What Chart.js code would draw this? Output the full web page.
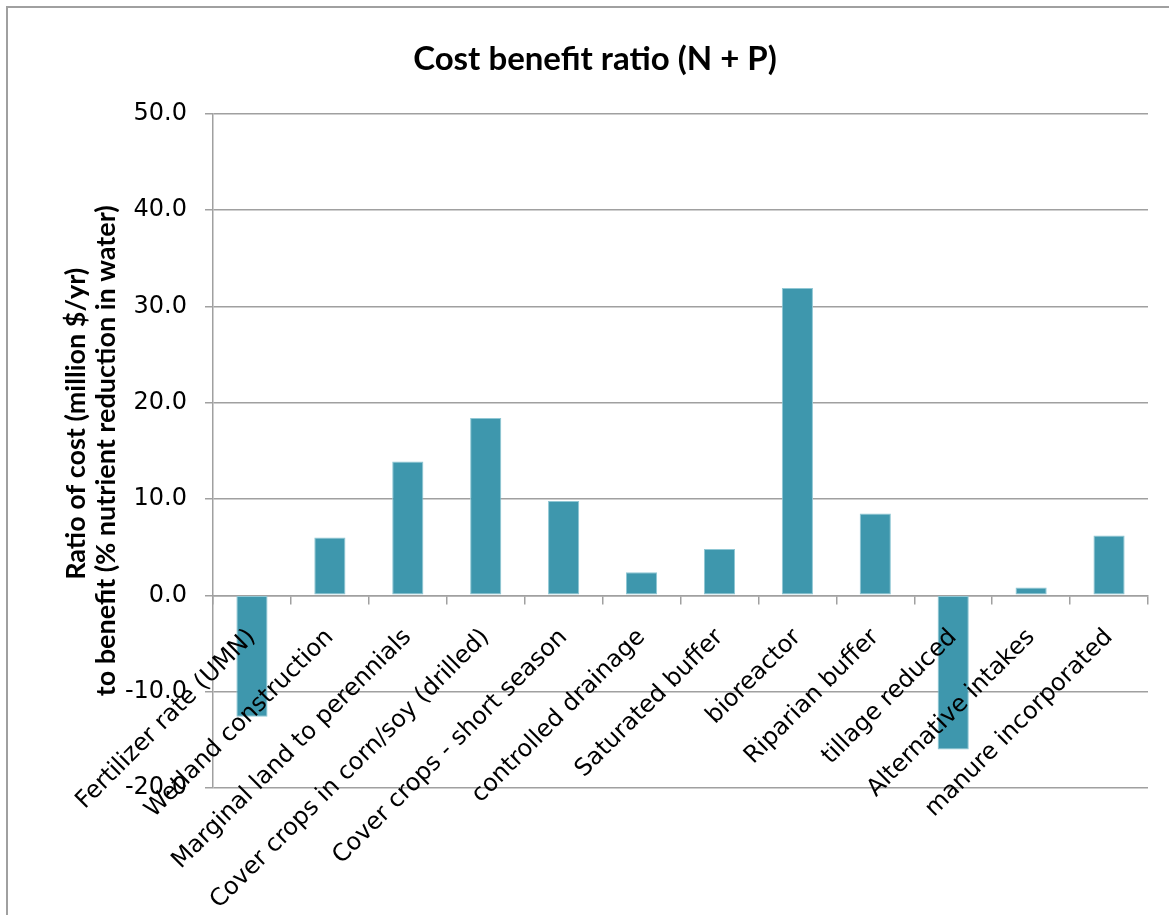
<!DOCTYPE html>
<html>
<head>
<meta charset="utf-8">
<title>Cost benefit ratio (N + P)</title>
<script src="https://cdn.jsdelivr.net/npm/chart.js@4/dist/chart.umd.min.js"></script>
<style>
  html, body { margin: 0; padding: 0; background: #fff; overflow: hidden; }
  #wrap { position: relative; width: 1169px; height: 915px; }
  #frame {
    position: absolute; left: 6px; top: 6px; width: 1300px; height: 1100px;
    border-left: 2px solid #a0a0a0; border-top: 2px solid #a0a0a0;
    pointer-events: none;
  }
  canvas { position: absolute; left: 0; top: 0; }
</style>
</head>
<body>
<div id="wrap">
  <div id="frame"></div>
  <canvas id="chart" width="1169" height="915"></canvas>
</div>
<script>
// Practices compared
const practices = [
  'Fertilizer rate (UMN)',
  'Wetland construction',
  'Marginal land to perennials',
  'Cover crops in corn/soy (drilled)',
  'Cover crops - short season',
  'controlled drainage',
  'Saturated buffer',
  'bioreactor',
  'Riparian buffer',
  'tillage reduced',
  'Alternative intakes',
  'manure incorporated'
];

// Cost (million $/yr) per % nutrient reduction in water
const costBenefitRatio = [-12.6, 6.0, 13.9, 18.4, 9.8, 2.4, 4.8, 31.9, 8.5, -16.0, 0.8, 6.2];

// Value axis range and step
const yMin = -20;
const yMax = 50;
const yStep = 10;

const chartTitle = 'Cost benefit ratio (N + P)';
const yTitleLines = ['Ratio of cost (million $/yr)', 'to benefit (% nutrient reduction in water)'];

const gridGray = '#a0a0a0';
const barFill = '#3e97ad';

// Rotated two-line value axis title
const yTitlePlugin = {
  id: 'yTitle',
  afterDraw(chart) {
    const ctx = chart.ctx;
    const area = chart.chartArea;
    const mid = (area.top + area.bottom) / 2;
    ctx.save();
    ctx.font = 'bold 27px Lato, sans-serif';
    ctx.fillStyle = '#000';
    ctx.textAlign = 'center';
    ctx.textBaseline = 'middle';
    const placements = [{x: 76, dy: -27}, {x: 106, dy: 0}];
    yTitleLines.forEach((line, i) => {
      ctx.save();
      ctx.translate(placements[i].x, mid + placements[i].dy);
      ctx.rotate(-Math.PI / 2);
      ctx.fillText(line, 0, 0);
      ctx.restore();
    });
    ctx.restore();
  }
};

new Chart(document.getElementById('chart'), {
  type: 'bar',
  data: {
    labels: practices,
    datasets: [{
      data: costBenefitRatio,
      backgroundColor: barFill,
      borderColor: '#8fc7d4',
      borderWidth: 1,
      borderSkipped: false,
      barPercentage: 0.4,
      categoryPercentage: 1.0
    }]
  },
  options: {
    responsive: false,
    animation: false,
    devicePixelRatio: 1,
    layout: { padding: { left: 42, right: 21, top: 0, bottom: 127 } },
    plugins: {
      legend: { display: false },
      tooltip: { enabled: false },
      title: {
        display: true,
        text: chartTitle,
        color: '#000',
        font: { family: 'Lato, sans-serif', size: 33, weight: 'bold' },
        padding: { top: 40, bottom: 34 }
      }
    },
    scales: {
      x: {
        type: 'category',
        position: { y: 0 },
        offset: true,
        grid: {
          offset: true,
          drawOnChartArea: false,
          drawTicks: true,
          tickLength: 8,
          color: gridGray,
          lineWidth: 1.5
        },
        border: { display: true, color: gridGray, width: 1.5 },
        ticks: {
          z: 1,
          autoSkip: false,
          minRotation: 45,
          maxRotation: 45,
          padding: 20,
          color: '#000',
          font: { family: '"DejaVu Sans", sans-serif', size: 24 }
        }
      },
      y: {
        min: yMin,
        max: yMax,
        afterFit(scale) { scale.width = 171; },
        grid: {
          color: gridGray,
          lineWidth: 1.5,
          tickLength: 8
        },
        border: { display: true, color: gridGray, width: 1.5 },
        ticks: {
          stepSize: yStep,
          padding: 18,
          color: '#000',
          font: { family: '"DejaVu Sans", sans-serif', size: 24 },
          callback: v => Number(v).toFixed(1)
        }
      }
    }
  },
  plugins: [yTitlePlugin]
});
</script>
</body>
</html>
